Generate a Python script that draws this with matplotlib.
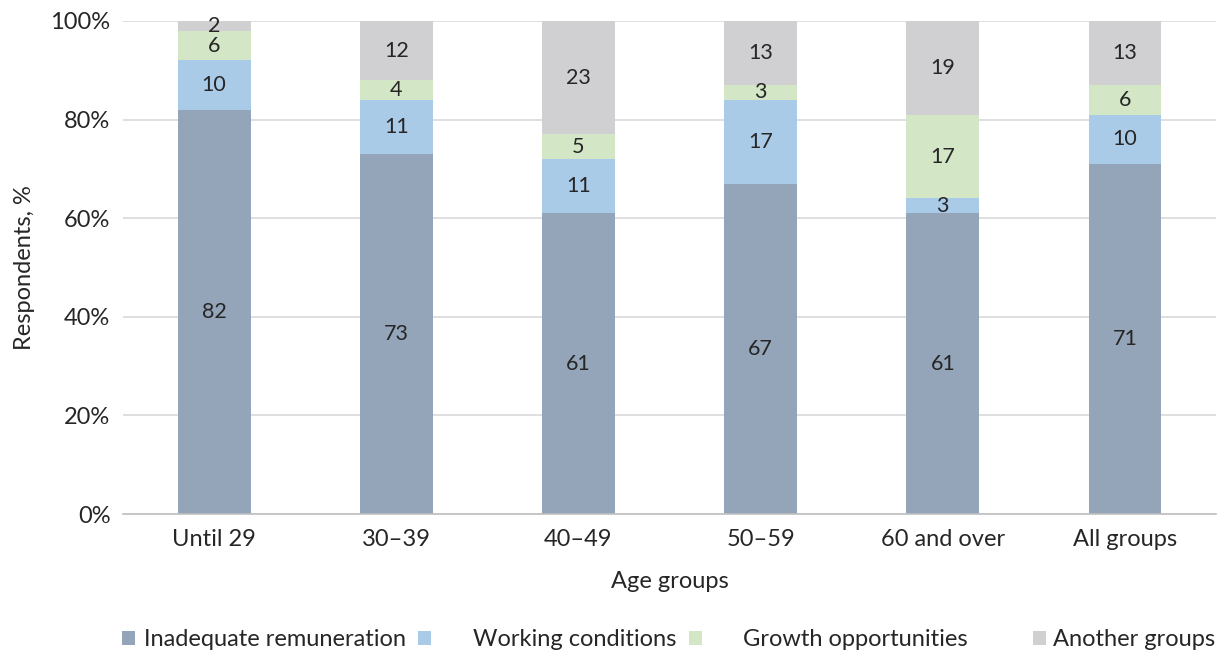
import numpy as np
import matplotlib.pyplot as plt
from matplotlib.patches import Patch

plt.rcParams['font.family'] = ['Lato', 'DejaVu Sans']
plt.rcParams['text.color'] = '#262626'
plt.rcParams['axes.labelcolor'] = '#262626'
plt.rcParams['xtick.color'] = '#262626'
plt.rcParams['ytick.color'] = '#262626'

# ----------- Data -----------
age_groups = ["Until 29", "30–39", "40–49", "50–59", "60 and over", "All groups"]
remuneration = [82, 73, 61, 67, 61, 71]
conditions = [10, 11, 11, 17, 3, 10]
growth = [6, 4, 5, 3, 17, 6]
other = [2, 12, 23, 13, 19, 13]

series = [
    ("Inadequate remuneration", remuneration, "#94A5BA"),
    ("Working conditions", conditions, "#AACBE8"),
    ("Growth opportunities", growth, "#D3E6C6"),
    ("Another groups", other, "#D0D0D2"),
]

# ----------- Stacked bars -----------
fig = plt.figure(figsize=(12.25, 6.54), dpi=100)
ax = fig.add_axes([0.1004, 0.214, 0.8923, 0.754])

x = np.arange(len(age_groups))
bottom = np.zeros(len(age_groups))
for name, vals, color in series:
    vals = np.array(vals, dtype=float)
    bars = ax.bar(x, vals, width=0.4, bottom=bottom, color=color, label=name, zorder=2)
    ax.bar_label(bars, labels=[str(int(v)) for v in vals], label_type="center",
                 fontsize=15.5, color="#262626")
    bottom += vals

ax.set_xlim(-0.5, len(age_groups) - 0.5)
ax.set_ylim(0, 100)
ax.set_yticks(np.arange(0, 101, 20))
ax.set_yticklabels([f"{v}%" for v in range(0, 101, 20)])
ax.set_xticks(x)
ax.set_xticklabels(age_groups)
ax.tick_params(axis="both", length=0, labelsize=17)
ax.tick_params(axis="x", pad=11)
ax.tick_params(axis="y", pad=9)

ax.grid(axis="y", color="#D9D9D9", linewidth=1.2, zorder=0)
for side in ["top", "right", "left"]:
    ax.spines[side].set_visible(False)
ax.spines["bottom"].set_color("#BFBFBF")
ax.spines["bottom"].set_linewidth(1.2)
ax.spines["bottom"].set_zorder(3)

ax.set_xlabel("Age groups", fontsize=17, labelpad=15)
ax.set_ylabel("Respondents, %", fontsize=17, labelpad=11)

# ----------- Legend: one entry per slot along the bottom -----------
legend_x = [0.0996, 0.3415, 0.5628, 0.8434]
legend_pad = [0.38, 1.78, 1.7, 0.3]
for (name, _, color), lx, pad in zip(series, legend_x, legend_pad):
    fig.legend(handles=[Patch(facecolor=color, label=name)],
               loc="center left", bbox_to_anchor=(lx, 0.022),
               frameon=False, fontsize=17, borderpad=0, borderaxespad=0,
               handlelength=0.55, handleheight=0.55, handletextpad=pad)

fig.savefig("out.png", dpi=100)
